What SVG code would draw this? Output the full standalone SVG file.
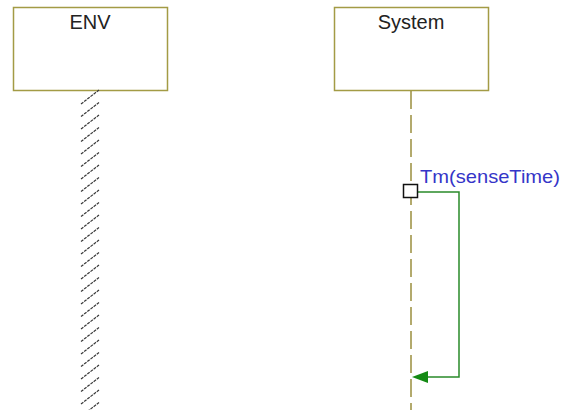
<svg xmlns="http://www.w3.org/2000/svg" width="562" height="410" viewBox="0 0 562 410">
<style>
.box{fill:#fff;stroke:#a39b45;stroke-width:1.5}
.name{font-family:"Liberation Sans",Arial,sans-serif;font-size:20px;fill:#222;text-anchor:middle}
.life{stroke:#9a8f3e;stroke-width:1.5;fill:none;stroke-dasharray:18,6}
.hatch{stroke:#3a3a3a;stroke-width:1.2;fill:none;stroke-dasharray:3,1}
.msg{stroke:#2a8a2a;stroke-width:1.5;fill:none}
.lbl{font-family:"Liberation Sans",Arial,sans-serif;font-size:19px;fill:#3535c8}
</style>
<rect width="562" height="410" fill="#fff"/>
<g id="ENV">
<rect class="box" x="13.5" y="7.5" width="154" height="83"/>
<text class="name" x="90" y="29">ENV</text>
<path class="hatch" d="M81,104 l18,-14 m-18,26.5 l18,-14 m-18,26.5 l18,-14 m-18,26.5 l18,-14 m-18,26.5 l18,-14 m-18,26.5 l18,-14 m-18,26.5 l18,-14 m-18,26.5 l18,-14 m-18,26.5 l18,-14 m-18,26.5 l18,-14 m-18,26.5 l18,-14 m-18,26.5 l18,-14 m-18,26.5 l18,-14 m-18,26.5 l18,-14 m-18,26.5 l18,-14 m-18,26.5 l18,-14 m-18,26.5 l18,-14 m-18,26.5 l18,-14 m-18,26.5 l18,-14 m-18,26.5 l18,-14 m-18,26.5 l18,-14 m-18,26.5 l18,-14 m-18,26.5 l18,-14 m-18,26.5 l18,-14 m-18,26.5 l18,-14 m-18,26.5 l18,-14"/>
</g>
<g id="System">
<rect class="box" x="334.5" y="7.5" width="154" height="83"/>
<text class="name" x="411" y="29">System</text>
<line class="life" x1="411" y1="91" x2="411" y2="410"/>
</g>
<g id="connectors">
<polyline class="msg" points="417,192 459,192 459,377 426,377"/>
<polygon points="412,377 428,371 428,383" fill="#138a13"/>
<rect x="403.5" y="184.5" width="14" height="13" fill="#fff" stroke="#111" stroke-width="1.5"/>
<text class="lbl" x="420" y="183" textLength="140" lengthAdjust="spacingAndGlyphs">Tm(senseTime)</text>
</g>
</svg>
